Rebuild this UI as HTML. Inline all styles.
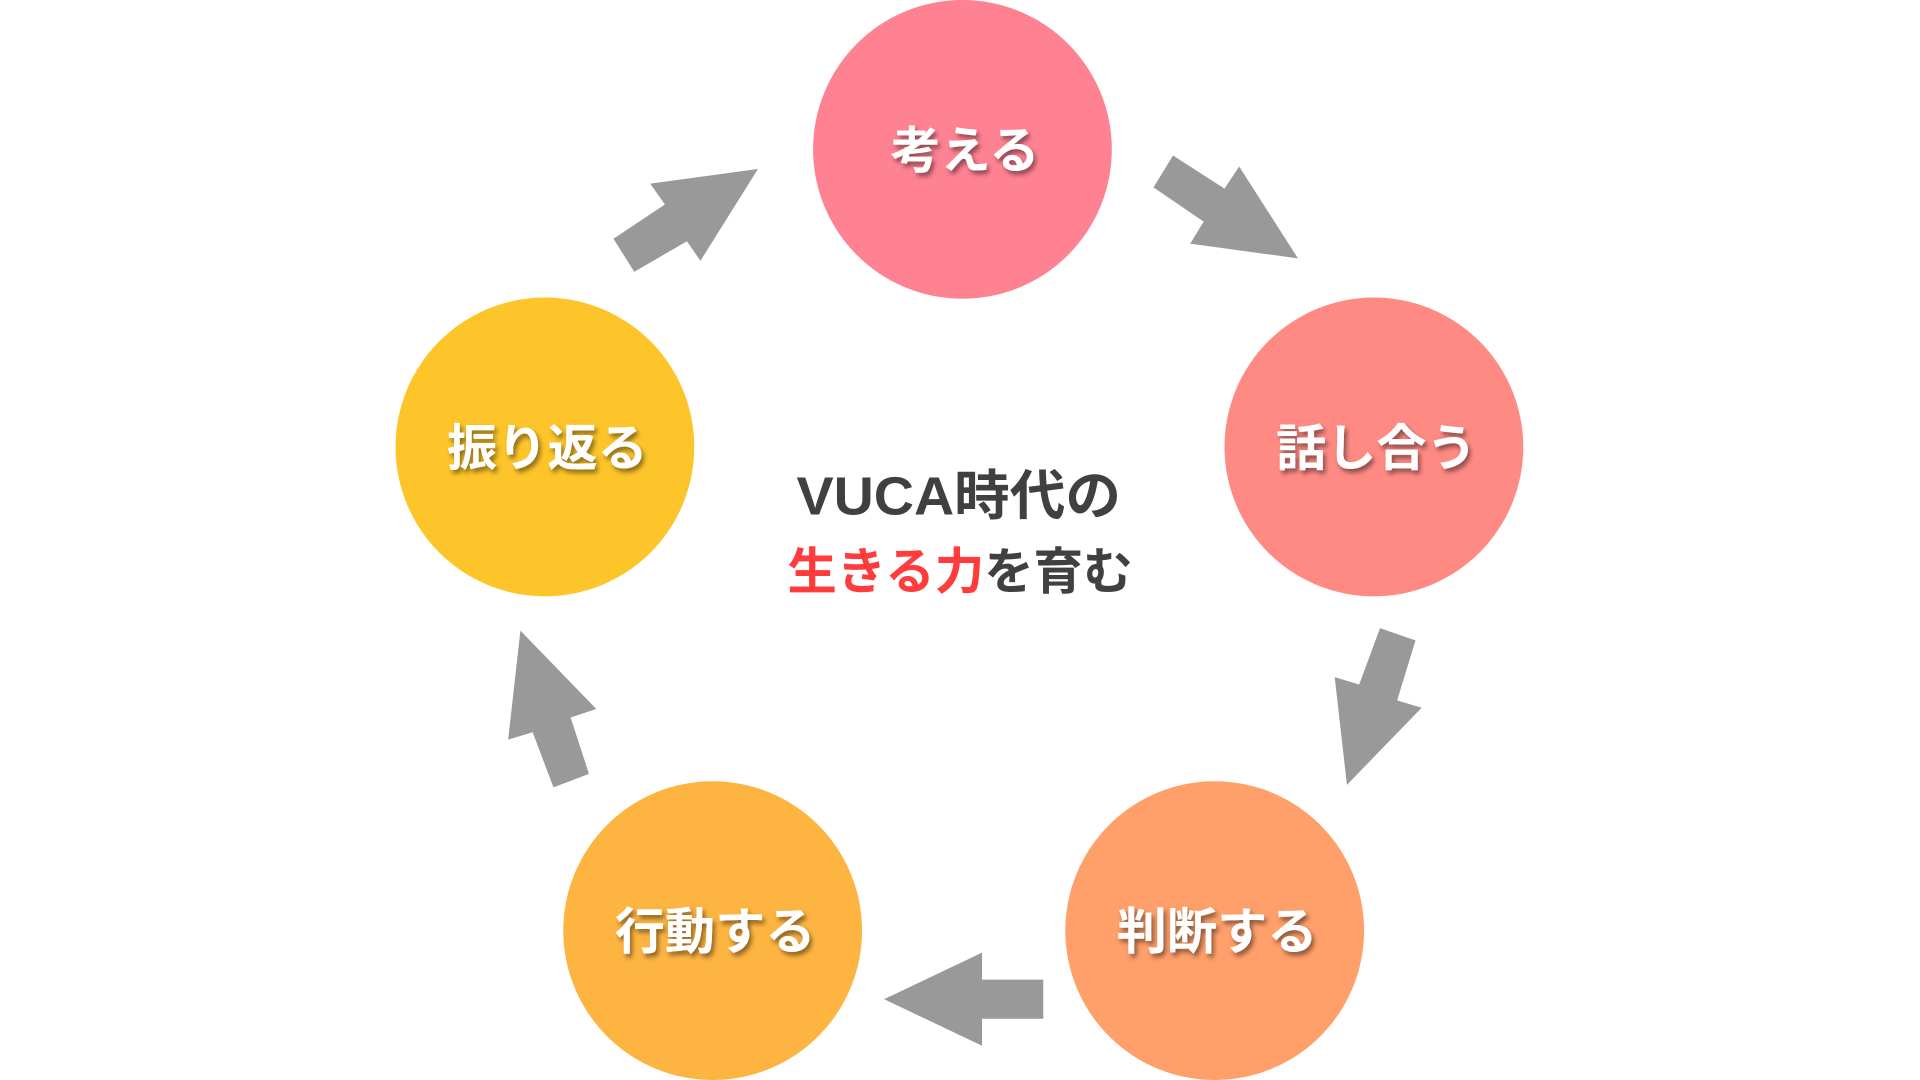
<!DOCTYPE html>
<html><head><meta charset="utf-8"><style>
html,body{margin:0;padding:0;background:#fff;width:1920px;height:1080px;overflow:hidden}
svg{display:block}
text{font-family:"Liberation Sans","Noto Sans CJK JP",sans-serif;font-weight:bold}
</style></head><body>
<svg width="1920" height="1080" viewBox="0 0 1568 882" xmlns="http://www.w3.org/2000/svg">
<defs><filter id="sh" x="-20%" y="-20%" width="140%" height="140%"><feDropShadow dx="2" dy="3" stdDeviation="2" flood-color="#000" flood-opacity="0.45"/></filter></defs>
<circle cx="786" cy="122" r="122" fill="#FF8293"/>
<circle cx="1122" cy="365" r="122" fill="#FF8A84"/>
<circle cx="992" cy="760" r="122" fill="#FF9F6A"/>
<circle cx="582" cy="760" r="122" fill="#FDB441"/>
<circle cx="445" cy="365" r="122" fill="#FDC52A"/>
<g fill="#999">
<polygon points="501,195 543,167 531,150 619,138 572,213 561,197 518,222"/>
<polygon points="942,153 958,127 1000,154 1012,136 1060,211 972,199 983,181"/>
<polygon points="1127,513 1156,523 1141,572 1161,578 1100,641 1090,553 1110,559"/>
<polygon points="852,800 852,832 802,832 802,854 722,816 802,778 802,800"/>
<polygon points="481,632 452,643 435,598 415,604 425,515 487,579 466,586"/>
</g>
<g fill="#fff" font-size="41" text-anchor="middle" filter="url(#sh)">
<text x="788" y="137">考える</text>
<text x="1124" y="380">話し合う</text>
<text x="994" y="775">判断する</text>
<text x="584" y="775">行動する</text>
<text x="447" y="380">振り返る</text>
</g>
<text x="783" y="420" font-size="44" text-anchor="middle" fill="#404040" textLength="265" lengthAdjust="spacingAndGlyphs">VUCA時代の</text>
<text x="784" y="481" font-size="41" text-anchor="middle" fill="#404040" textLength="282" lengthAdjust="spacingAndGlyphs"><tspan fill="#FF3B3B">生きる力</tspan>を育む</text>
</svg>
</body></html>
